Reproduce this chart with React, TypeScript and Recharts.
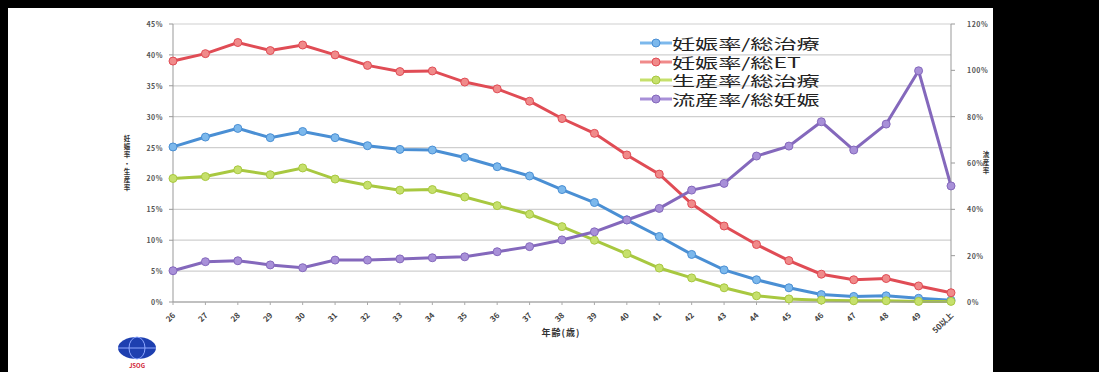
import React from 'react';
import { LineChart, Line, XAxis, YAxis, CartesianGrid } from 'recharts';

const categories = ['26','27','28','29','30','31','32','33','34','35','36','37','38','39','40','41','42','43','44','45','46','47','48','49','50以上'];
const pregPerTreatment = [25.1, 26.7, 28.1, 26.6, 27.6, 26.6, 25.3, 24.7, 24.6, 23.4, 21.9, 20.4, 18.2, 16.1, 13.3, 10.6, 7.7, 5.2, 3.6, 2.3, 1.2, 0.9, 1.0, 0.6, 0.3];
const pregPerET = [39.0, 40.2, 42.0, 40.7, 41.6, 40.0, 38.3, 37.3, 37.4, 35.6, 34.5, 32.5, 29.7, 27.3, 23.8, 20.7, 15.9, 12.3, 9.3, 6.7, 4.5, 3.6, 3.8, 2.6, 1.5];
const birthPerTreatment = [20.0, 20.3, 21.4, 20.6, 21.7, 19.9, 18.9, 18.1, 18.2, 17.0, 15.6, 14.2, 12.2, 10.0, 7.8, 5.5, 3.9, 2.3, 1.0, 0.5, 0.3, 0.2, 0.2, 0.1, 0.1];
const miscarriagePerPreg = [13.5, 17.4, 17.8, 16.0, 14.8, 18.1, 18.1, 18.6, 19.1, 19.5, 21.7, 23.9, 26.8, 30.3, 35.4, 40.4, 48.3, 51.2, 63.0, 67.3, 77.8, 65.6, 76.8, 99.8, 50.1];

const leftTicks = [0, 5, 10, 15, 20, 25, 30, 35, 40, 45];
const rightTicks = [0, 20, 40, 60, 80, 100, 120];

const seriesNames = ['妊娠率/総治療', '妊娠率/総ET', '生産率/総治療', '流産率/総妊娠'];
const lineColors = ['#4a8fd4', '#e04c55', '#a8c840', '#8468bc'];
const dotColors = ['#7cb8ec', '#f08a8a', '#c6e06c', '#a890d8'];

const xTitle = '年齢(歳)';
const leftTitle = '妊娠率・生産率';
const rightTitle = '流産率';

const data = categories.map((c, i) => ({
  age: c,
  a: pregPerTreatment[i],
  b: pregPerET[i],
  c: birthPerTreatment[i],
  d: miscarriagePerPreg[i],
}));

const FONT = '"Noto Sans CJK JP", "Noto Sans", sans-serif';

const XTick = (props: any) => {
  const { x, y, payload } = props;
  return (
    <g transform={`translate(${x},${y + 6})`}>
      <text transform="rotate(-45)" textAnchor="end" dy={4} fontSize={8} fontWeight="bold" fill="#444" fontFamily={FONT}>
        {payload.value}
      </text>
    </g>
  );
};

const LeftTick = (props: any) => {
  const { x, y, payload } = props;
  return (
    <text x={x - 4} y={y} dy={3} textAnchor="end" fontSize={7} fontWeight="bold" fill="#555" fontFamily={FONT} letterSpacing={0.5}>
      {payload.value}%
    </text>
  );
};

const RightTick = (props: any) => {
  const { x, y, payload } = props;
  return (
    <text x={x + 10} y={y} dy={3} textAnchor="start" fontSize={7} fontWeight="bold" fill="#555" fontFamily={FONT} letterSpacing={0.5}>
      {payload.value}%
    </text>
  );
};

const LegendBox = () => (
  <div style={{ position: 'absolute', left: 640, top: 34, fontFamily: FONT }}>
    {seriesNames.map((n, i) => (
      <div key={n} style={{ display: 'flex', alignItems: 'center', height: 18.5 }}>
        <svg width={32} height={12}>
          <line x1={0} y1={6} x2={32} y2={6} stroke={dotColors[i]} strokeWidth={3} />
          <circle cx={16} cy={6} r={4} fill={dotColors[i]} stroke={lineColors[i]} strokeWidth={1} />
        </svg>
        <span style={{ fontSize: 14, color: '#222', whiteSpace: 'nowrap', display: 'inline-block', transform: 'scaleX(1.65)', transformOrigin: 'left center', lineHeight: '18px' }}>
          {n}
        </span>
      </div>
    ))}
  </div>
);

const keys = ['a', 'b', 'c', 'd'];

const VerticalText = ({ x, y, text, step }: { x: number; y: number; text: string; step: number }) => (
  <g>
    {text.split('').map((ch, i) => (
      <text key={i} x={x} y={y + i * step} textAnchor="middle" fontSize={6.5} fontWeight="bold" fill="#333" fontFamily={FONT}>
        {ch}
      </text>
    ))}
  </g>
);

export default function App() {
  return (
    <div style={{ position: 'absolute', left: 0, top: 0, width: 1099, height: 372, background: '#000', overflow: 'hidden' }}>
      <div style={{ position: 'absolute', left: 8, top: 8, width: 985, height: 364, background: '#fff' }} />
      <div style={{ position: 'absolute', left: 0, top: 0 }}>
        <LineChart width={1099} height={372} data={data} margin={{ top: 24, right: 88, bottom: 20, left: 113 }}>
          <CartesianGrid vertical={false} stroke="#cfcfcf" strokeWidth={1.2} yAxisId="left" />
          <XAxis dataKey="age" height={50} tick={<XTick />} tickLine={{ stroke: '#aaa' }} axisLine={{ stroke: '#999' }} interval={0} tickSize={3} />
          <YAxis yAxisId="left" width={60} domain={[0, 45]} ticks={leftTicks} interval={0} tick={<LeftTick />} axisLine={{ stroke: '#999' }} tickLine={{ stroke: '#999' }} tickSize={4} />
          <YAxis yAxisId="right" orientation="right" width={60} domain={[0, 120]} ticks={rightTicks} interval={0} tick={<RightTick />} axisLine={{ stroke: '#999' }} tickLine={{ stroke: '#999' }} tickSize={4} />
          {keys.map((k, i) => (
            <Line
              key={k}
              yAxisId={i === 3 ? 'right' : 'left'}
              dataKey={k}
              name={seriesNames[i]}
              stroke={lineColors[i]}
              strokeWidth={3}
              dot={{ r: 4, fill: dotColors[i], stroke: lineColors[i], strokeWidth: 1 }}
              isAnimationActive={false}
            />
          ))}
        </LineChart>
      </div>
      <LegendBox />
      <svg width={1099} height={372} style={{ position: 'absolute', left: 0, top: 0, pointerEvents: 'none' }}>
        <text x={561} y={336} textAnchor="middle" fontSize={9} fontWeight="bold" fill="#333" fontFamily={FONT} letterSpacing={1}>
          {xTitle}
        </text>
        <VerticalText x={127} y={141} text={leftTitle} step={8.2} />
        <VerticalText x={986} y={157} text={rightTitle} step={8.2} />
        <ellipse cx={137} cy={348} rx={19} ry={11} fill="#1e3fb0" />
        <ellipse cx={137} cy={348} rx={8} ry={11} fill="none" stroke="#8fa8ff" strokeWidth={1} />
        <line x1={118} y1={348} x2={156} y2={348} stroke="#8fa8ff" strokeWidth={1} />
        <text x={137} y={368} textAnchor="middle" fontSize={6} fontWeight="bold" fill="#d02030" fontFamily={FONT}>JSOG</text>
      </svg>
    </div>
  );
}
